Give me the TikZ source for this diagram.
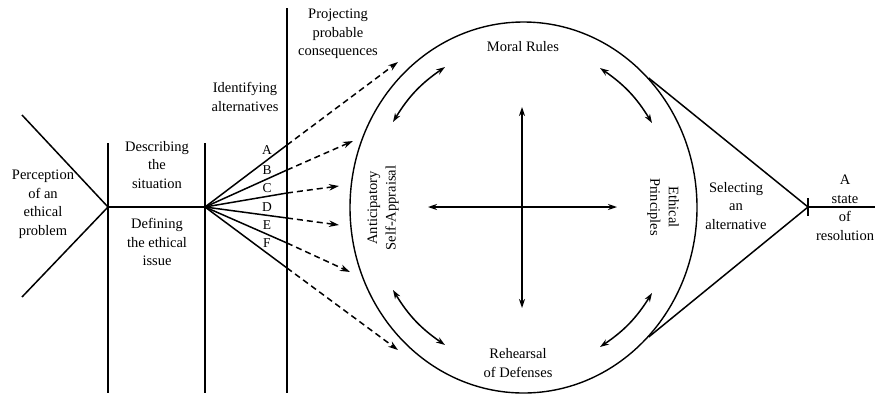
\documentclass[tikz,border=0pt]{standalone}
\usepackage{fontspec}
\setmainfont{Liberation Serif}
\usetikzlibrary{arrows.meta,shapes.geometric}
\begin{document}
\begin{tikzpicture}[x=1pt,y=1pt,
  ln/.style={line width=1.5pt},
  tip/.style={-{Stealth[length=10pt,width=6.5pt]}},
  dtip/.style={{Stealth[length=9pt,width=6pt]}-{Stealth[length=9pt,width=6pt]}},
  dsh/.style={line width=1.5pt, dash pattern=on 6pt off 4pt},
  lbl/.style={font=\fontsize{14.5}{18.5}\selectfont, align=center, inner sep=0pt},
  letter/.style={font=\fontsize{13.5}{15}\selectfont, inner sep=0pt}]
\useasboundingbox (0,0) rectangle (875,-397);

% --- left fishbone ---
\coordinate (ulend) at (22,-115);
\coordinate (llend) at (22,-297);
\coordinate (hub) at (108,-207);
\coordinate (fan) at (205,-207);
\coordinate (v1t) at (108,-143);
\coordinate (v1b) at (108,-393);
\coordinate (v2t) at (205,-143);
\coordinate (v2b) at (205,-393);
\coordinate (v3t) at (287,-8);
\coordinate (v3b) at (287,-393);

\draw[ln] (ulend) -- (hub) -- (llend);
\draw[ln] (hub) -- (fan);
\draw[ln] (v1t) -- (v1b);
\draw[ln] (v2t) -- (v2b);
\draw[ln] (v3t) -- (v3b);

% --- alternatives fan ---
\coordinate (pA) at (287,-145);
\coordinate (pB) at (287,-170);
\coordinate (pC) at (287,-193);
\coordinate (pD) at (287,-218);
\coordinate (pE) at (287,-243);
\coordinate (pF) at (287,-268);
\coordinate (tA) at (398,-62);
\coordinate (tB) at (353,-141);
\coordinate (tC) at (339,-186);
\coordinate (tD) at (339,-225);
\coordinate (tE) at (350,-272);
\coordinate (tF) at (398,-350);
\foreach \k in {A,B,C,D,E,F}{
  \draw[ln] (fan) -- (p\k);
  \draw[dsh,tip] (p\k) -- (t\k);
}
\node[letter] (lA) at (267,-150) {A};
\node[letter] (lB) at (267,-170) {B};
\node[letter] (lC) at (267,-188) {C};
\node[letter] (lD) at (267,-207) {D};
\node[letter] (lE) at (267,-225) {E};
\node[letter] (lF) at (267,-243) {F};

% --- ellipse ---
\node[draw, line width=1.4pt, ellipse, minimum width=347pt, minimum height=371pt, inner sep=0pt] (ell) at (523.5,-207.5) {};

% cross
\coordinate (cl) at (428,-207);
\coordinate (cr) at (617,-207);
\coordinate (ct) at (522,-107);
\coordinate (cb) at (522,-308);
\draw[ln,dtip] (cl) -- (cr);
\draw[ln,dtip] (ct) -- (cb);

% curved double arrows
\coordinate (ul1) at (393,-122); \coordinate (ul2) at (445,-67);
\coordinate (ur1) at (600,-68);  \coordinate (ur2) at (652,-123);
\coordinate (lr1) at (652,-293); \coordinate (lr2) at (600,-347);
\coordinate (ll1) at (445,-345); \coordinate (ll2) at (393,-290);
\draw[ln,dtip] (ul1) to[bend left=12] (ul2);
\draw[ln,dtip] (ur1) to[bend left=12] (ur2);
\draw[ln,dtip] (lr1) to[bend left=12] (lr2);
\draw[ln,dtip] (ll1) to[bend left=12] (ll2);

% --- right part ---
\coordinate (apex) at (808,-207);
\coordinate (tickT) at (808,-198);
\coordinate (tickB) at (808,-216);
\coordinate (rend) at (875,-207);
\draw[ln] (ell.46) -- (apex) -- (ell.-46);
\draw[ln] (tickT) -- (tickB);
\draw[ln] (apex) -- (rend);

% --- texts ---
\node[lbl] (perc) at (43,-204) {Perception\\of an\\ethical\\problem};
\node[lbl] (desc) at (157,-165) {Describing\\the\\situation};
\node[lbl] (defn) at (157,-242) {Defining\\the ethical\\issue};
\node[lbl] (iden) at (245,-97) {Identifying\\alternatives};
\node[lbl] (proj) at (338,-34) {Projecting\\probable\\consequences};
\node[lbl] (moral) at (523,-47) {Moral Rules};
\node[lbl] (rehe) at (518,-363) {Rehearsal\\of Defenses};
\node[lbl, rotate=90] (anti) at (383,-208) {Anticipatory\\Self-Appraisal};
\node[lbl, rotate=-90] (ethi) at (663,-207) {Ethical\\Principles};
\node[lbl] (sele) at (736,-206) {Selecting\\an\\alternative};
\node[lbl] (stat) at (845,-208) {A\\state\\of\\resolution};
\end{tikzpicture}
\end{document}
